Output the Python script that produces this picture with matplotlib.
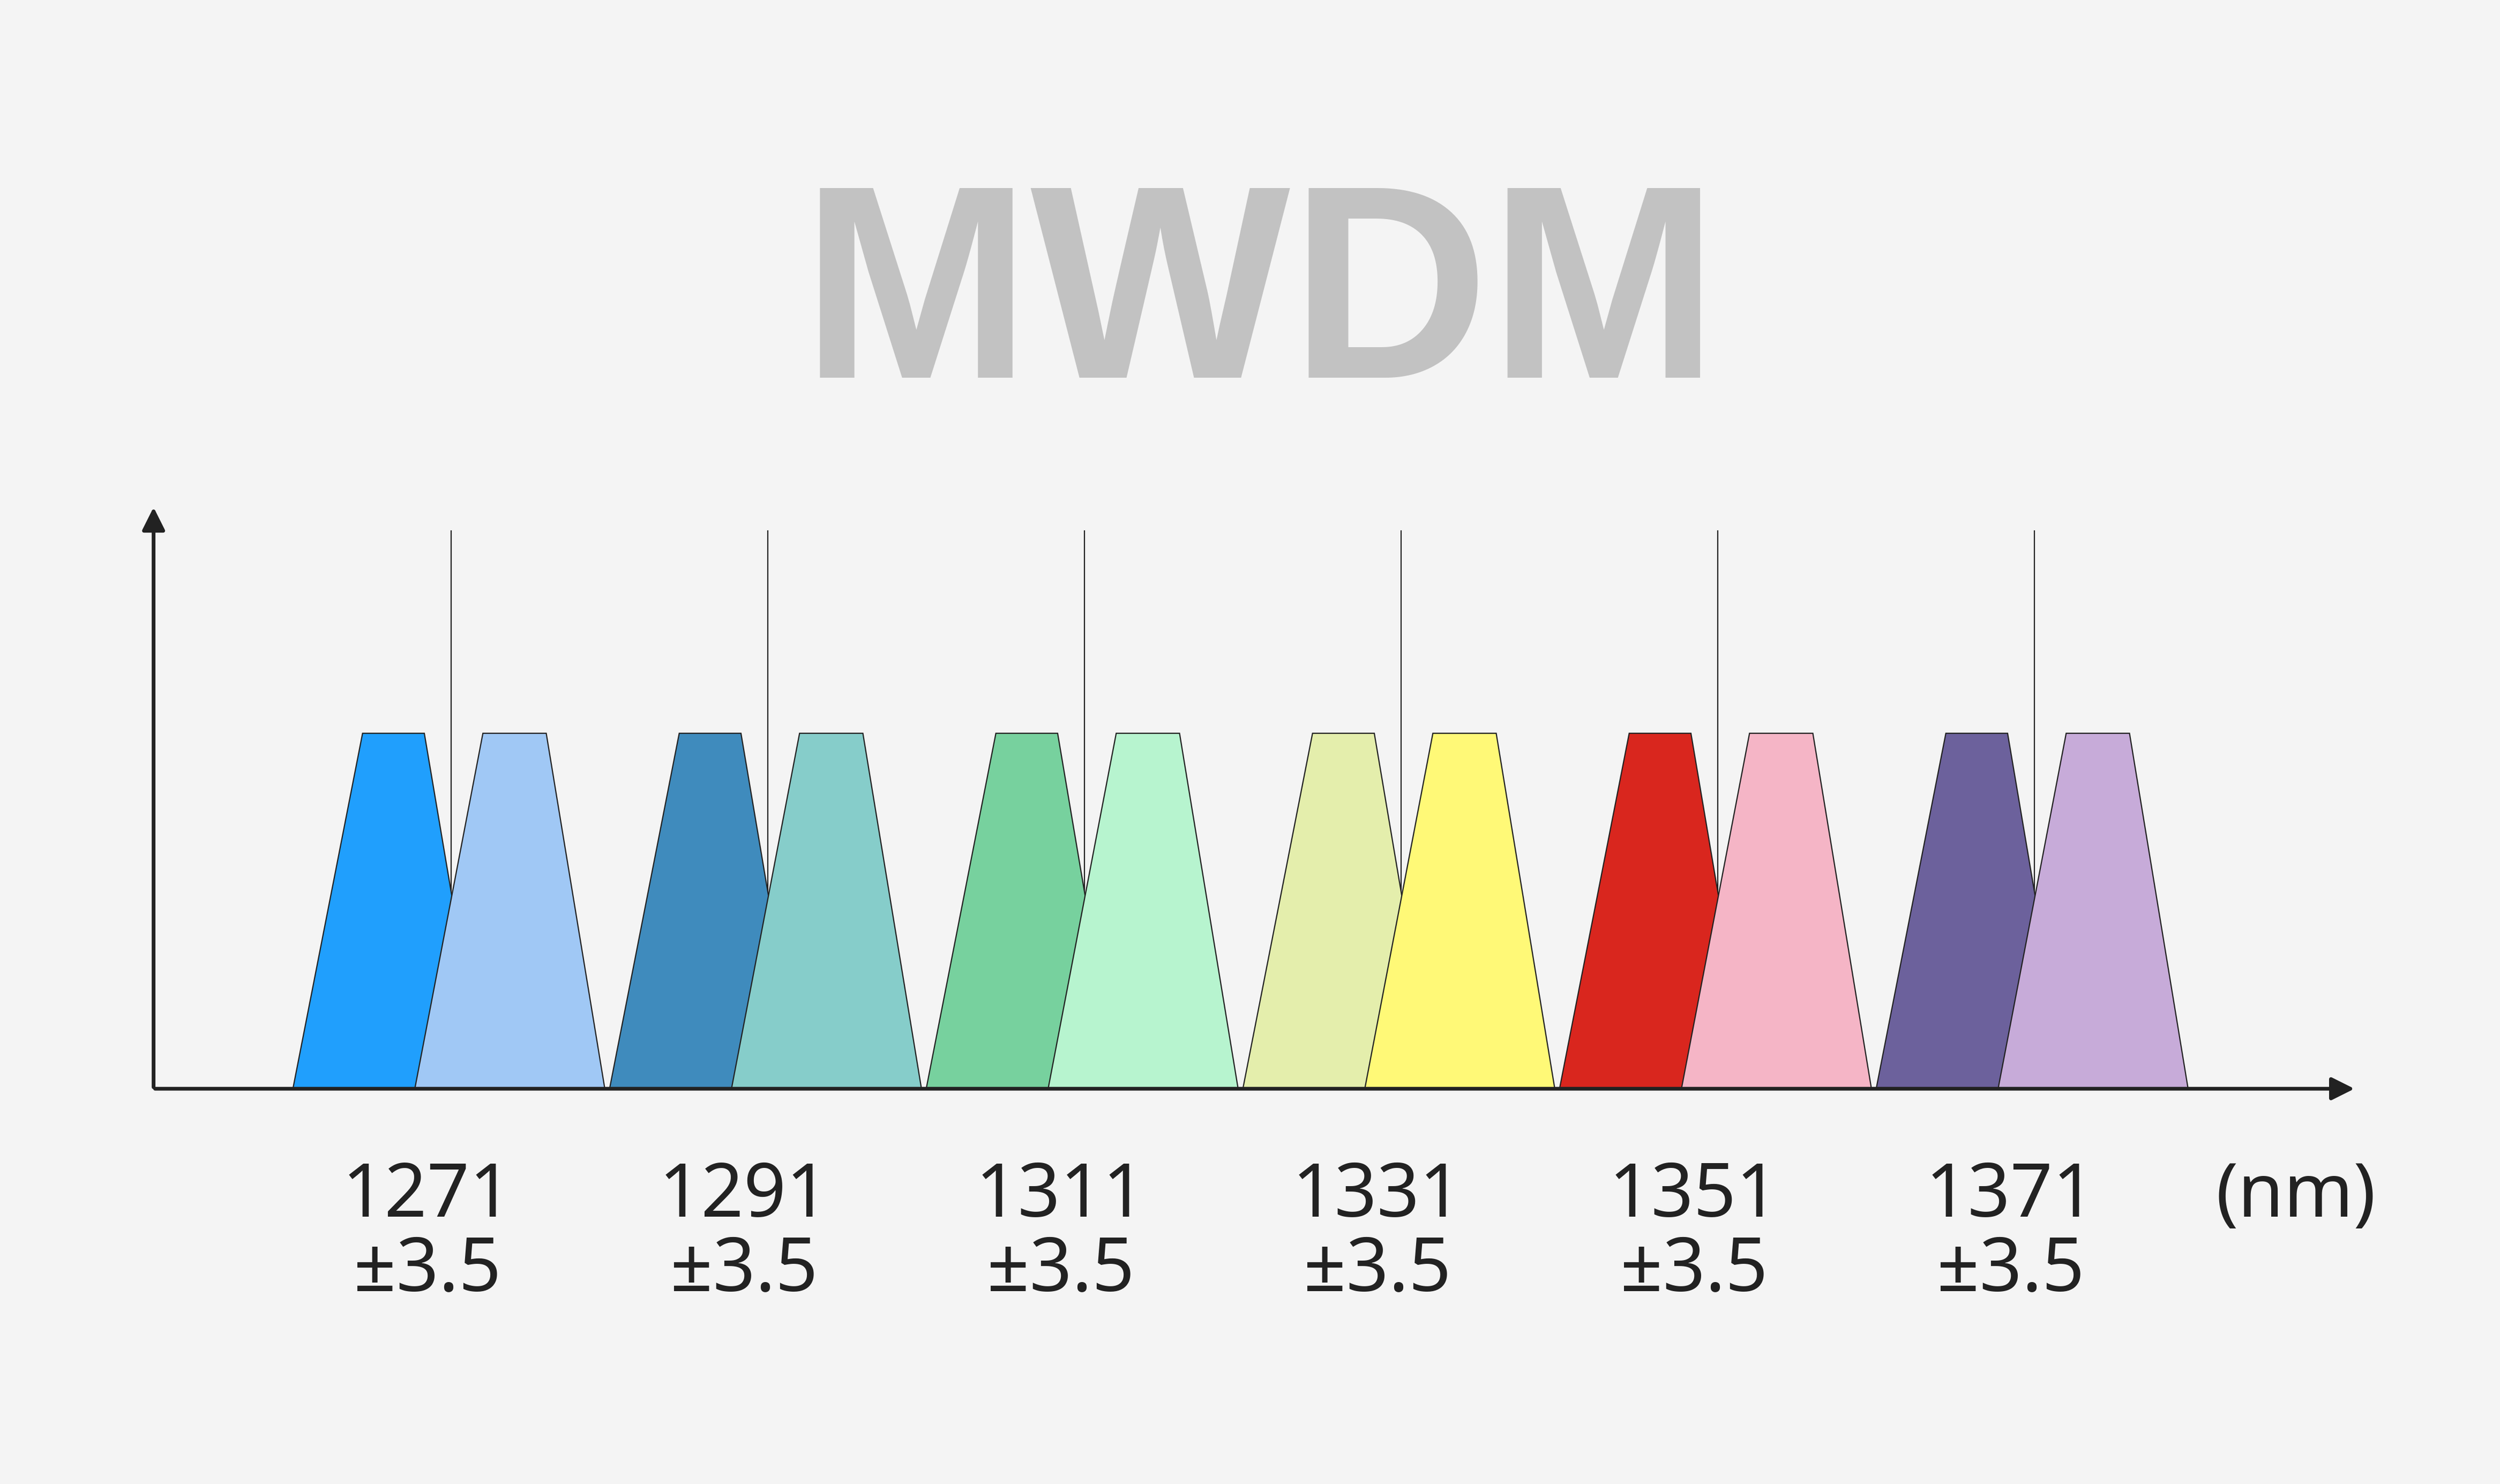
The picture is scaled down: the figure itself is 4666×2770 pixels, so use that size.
import matplotlib.pyplot as plt
from matplotlib.patches import Polygon

# channel centre wavelengths (nm)
centers = [1271, 1291, 1311, 1331, 1351, 1371]
labels = ["1271\n±3.5", "1291\n±3.5", "1311\n±3.5", "1331\n±3.5", "1351\n±3.5", "1371\n±3.5"]
left_colors = ["#209ffd", "#3f8bbd", "#77d19e", "#e4eeac", "#d9261e", "#6c619c"]
right_colors = ["#a0c8f5", "#86cdca", "#b7f4cf", "#fff977", "#f5b5c6", "#c7abd9"]
# trapezoid offsets from centre (nm): base-left, top-left, top-right, base-right
left_shape = [-10.0, -5.6, -1.7, 2.1]
right_shape = [-2.3, 2.0, 6.0, 9.7]
peak = 1.0
marker_top = 1.57

bg = "#f4f4f4"
fig = plt.figure(figsize=(46.66, 27.70), dpi=100, facecolor=bg)
ax = fig.add_axes([0, 0, 1, 1])
ax.set_facecolor(bg)
ax.set_xlim(1242.5, 1400.4)
ax.set_ylim(-1.112, 3.063)
ax.axis("off")

for c, lab, lc, rc in zip(centers, labels, left_colors, right_colors):
    ax.plot([c, c], [0, marker_top], color="#222222", lw=1.6, zorder=1)
    for shape, col, z in ((left_shape, lc, 2), (right_shape, rc, 3)):
        pts = [(c + shape[0], 0), (c + shape[1], peak), (c + shape[2], peak), (c + shape[3], 0)]
        ax.add_patch(Polygon(pts, closed=True, facecolor=col, edgecolor="#222222", lw=1.6, zorder=z))
    ax.text(c - 1.5, -0.2, lab, ha="center", va="top", fontsize=100,
            family="Noto Sans", color="#222222", linespacing=1.0)

ax.text(1387.5, -0.2, "(nm)", ha="center", va="top", fontsize=100,
        family="Noto Sans", color="#222222")

# axes with arrows
x0, x1 = 1252.2, 1391.3
ax.annotate("", xy=(x1, 0), xytext=(x0, 0), zorder=4,
            arrowprops=dict(arrowstyle="-|>", lw=5, color="#222222", mutation_scale=65))
ax.annotate("", xy=(x0, 1.64), xytext=(x0, 0), zorder=4,
            arrowprops=dict(arrowstyle="-|>", lw=5, color="#222222", mutation_scale=65))

fig.text(0.504, 0.7454, "MWDM", ha="center", va="baseline", fontsize=370,
         fontweight="bold", family="Liberation Sans", color="#c2c2c2")

fig.savefig("out.png", dpi=100, facecolor=bg)
